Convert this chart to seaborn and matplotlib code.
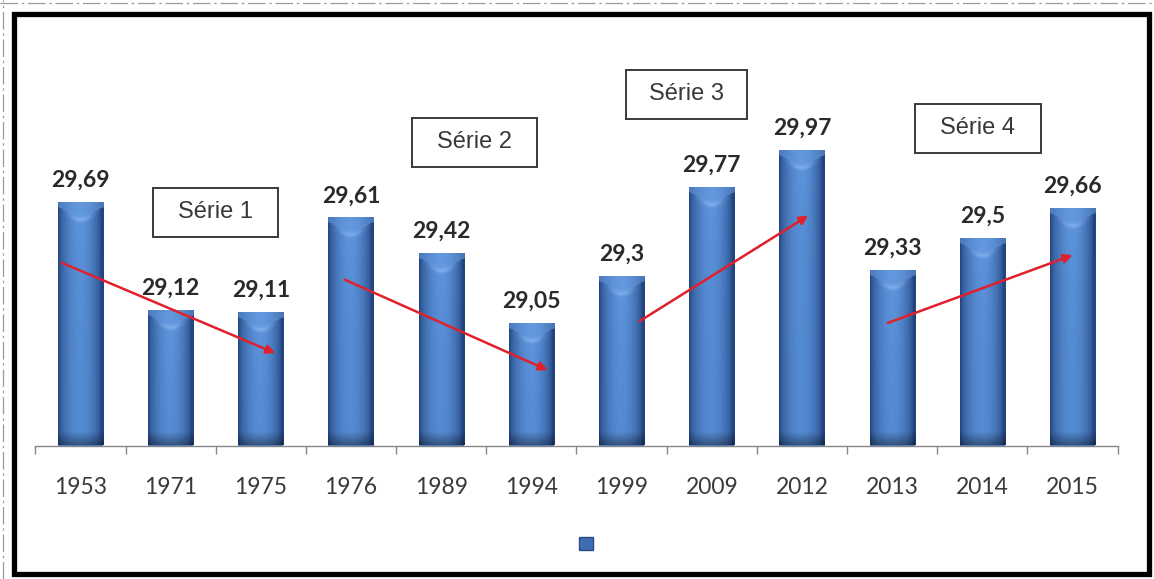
import numpy as np
import pandas as pd
import matplotlib
matplotlib.use("Agg")
import matplotlib.pyplot as plt
from matplotlib.patches import Patch, Rectangle
from matplotlib.lines import Line2D
import seaborn as sns

# ---- data ----
years = ["1953", "1971", "1975", "1976", "1989", "1994",
         "1999", "2009", "2012", "2013", "2014", "2015"]
values = [29.69, 29.12, 29.11, 29.61, 29.42, 29.05,
          29.30, 29.77, 29.97, 29.33, 29.50, 29.66]
series_names = ["Série 1", "Série 2", "Série 3", "Série 4"]

labels = [f"{v:g}".replace(".", ",") for v in values]

# ---- style ----
sns.set_theme(style="white")
plt.rcParams["font.family"] = ["Lato", "DejaVu Sans"]

W_PX, H_PX = 1154, 579
fig = plt.figure(figsize=(W_PX / 100, H_PX / 100), dpi=100)
fig.patch.set_facecolor("white")

YMIN, YMAX = 28.4, 30.605
ax = fig.add_axes([35.4 / W_PX, 1 - 445.5 / H_PX, 1082.2 / W_PX, 415.5 / H_PX])

df = pd.DataFrame({"year": years, "value": values})
sns.barplot(data=df, x="year", y="value", color="#4a7cc0", saturation=1,
            width=0.5, ax=ax, edgecolor="none")

# ---- bevelled bar shading ----
dark = np.array([0.14, 0.27, 0.50])
mid = np.array([0.33, 0.54, 0.82])
light = np.array([0.50, 0.68, 0.91])
px_per_unit = 415.5 / (YMAX - YMIN)


def bevel_image(h_px, w_px=45):
    t = np.linspace(0, 1, w_px)
    prof = np.sin(np.pi * np.clip(t * 1.05, 0, 1)) ** 0.6
    base = dark[None, :] + (mid - dark)[None, :] * prof[:, None]
    img = np.repeat(base[None, :, :], h_px, axis=0)
    rows = np.arange(h_px)[:, None]
    # top cap: lighter band whose lower edge dips toward the middle
    cap_edge = 6 + 10 * np.sin(np.pi * t) ** 1.5
    cap = rows < cap_edge[None, :]
    cap_col = mid * 0.8 + 0.2 * light
    img[cap] = img[cap] * 0.35 + cap_col * 0.65
    glow = np.exp(-((rows - cap_edge[None, :] - 2) ** 2) / 6.0) * np.sin(np.pi * t)[None, :] ** 2
    img = img + glow[:, :, None] * (light - mid)[None, None, :] * 0.7
    # soft vertical highlight under the cap
    fade = np.exp(-np.maximum(rows - cap_edge[None, :], 0) / 70.0)
    img = img + (fade * np.sin(np.pi * t)[None, :] ** 3)[:, :, None] * 0.04
    # darker base
    bottom = np.clip((rows - (h_px - 14)) / 14.0, 0, 1)
    img = img * (1 - 0.4 * bottom[:, :, None])
    return np.clip(img, 0, 1)


for patch, v in zip(ax.patches, values):
    x0 = patch.get_x()
    x1 = x0 + patch.get_width()
    h_px = max(int(round((v - YMIN) * px_per_unit)), 20)
    im = ax.imshow(bevel_image(h_px), extent=(x0, x1, YMIN, v), aspect="auto",
                   origin="upper", interpolation="bilinear", zorder=2.5)
    im.set_clip_path(patch)

# ---- value labels ----
for i, (v, lbl) in enumerate(zip(values, labels)):
    ax.annotate(lbl, xy=(i, v), xytext=(0, 11), textcoords="offset points",
                ha="center", va="baseline", fontsize=16.5, fontweight="bold",
                color="#2a2a2a", zorder=5)

# ---- trend arrows for each series ----
arrows = [((-0.21, 29.37), (2.16, 28.89)),
          ((2.93, 29.28), (5.18, 28.80)),
          ((6.20, 29.06), (8.07, 29.62)),
          ((8.95, 29.05), (11.00, 29.41))]
for start, end in arrows:
    ax.annotate("", xy=end, xytext=start,
                arrowprops=dict(arrowstyle="-|>", color="#e0202a", lw=1.8,
                                mutation_scale=13, shrinkA=0, shrinkB=0),
                zorder=6)

# ---- axes ----
ax.set_xlim(-0.5, len(years) - 0.5)
ax.set_ylim(YMIN, YMAX)
ax.set_xlabel("")
ax.set_ylabel("")
ax.set_yticks([])
for s in ("top", "right", "left"):
    ax.spines[s].set_visible(False)
ax.spines["bottom"].set_color("#868686")
ax.spines["bottom"].set_linewidth(1.0)
ax.set_xticks(range(len(years)))
ax.set_xticklabels(years)
ax.set_xticks(np.arange(-0.5, len(years), 1.0), minor=True)
ax.tick_params(axis="x", which="major", length=0, pad=23, labelsize=16.5,
               labelcolor="#3a3a3a")
ax.tick_params(axis="x", which="minor", length=5.5, width=1.0, color="#868686",
               bottom=True)
ax.set_facecolor("none")

# ---- series boxes ----
boxes = [(153, 188, 278, 237), (412, 118, 537, 167),
         (626, 70, 747, 119), (915, 104, 1041, 153)]
for name, (bx0, by0, bx1, by1) in zip(series_names, boxes):
    fig.patches.append(Rectangle((bx0 / W_PX, 1 - by1 / H_PX),
                                 (bx1 - bx0) / W_PX, (by1 - by0) / H_PX,
                                 transform=fig.transFigure, facecolor="white",
                                 edgecolor="#3a3a3a", lw=1.4, zorder=3))
    fig.text((bx0 + bx1) / 2 / W_PX, 1 - (by0 + by1) / 2 / H_PX, name,
             ha="center", va="center", fontsize=17, color="#383838",
             family=["Liberation Sans", "DejaVu Sans"], zorder=4)

# ---- legend marker ----
fig.legend(handles=[Patch(facecolor="#3f6cb0", edgecolor="#2a4c86")],
           labels=[""], loc="center", bbox_to_anchor=(586 / W_PX, 1 - 544 / H_PX),
           frameon=False, handlelength=0.95, handleheight=0.95,
           handletextpad=0, borderpad=0)

# ---- outer frame ----
fig.patches.append(Rectangle((14 / W_PX, 1 - 574 / H_PX), (1149 - 14) / W_PX,
                             (574 - 14) / H_PX, transform=fig.transFigure,
                             fill=False, edgecolor="black", lw=3.8, zorder=10))
fig.lines.append(Line2D([0, 1], [1 - 3 / H_PX] * 2, transform=fig.transFigure,
                        color="#9a9a9a", lw=0.9, ls=(0, (14, 3, 2, 3))))
fig.lines.append(Line2D([2.5 / W_PX] * 2, [0, 1], transform=fig.transFigure,
                        color="#9a9a9a", lw=0.9, ls=(0, (14, 3, 2, 3))))

fig.savefig("out.png", dpi=100)
